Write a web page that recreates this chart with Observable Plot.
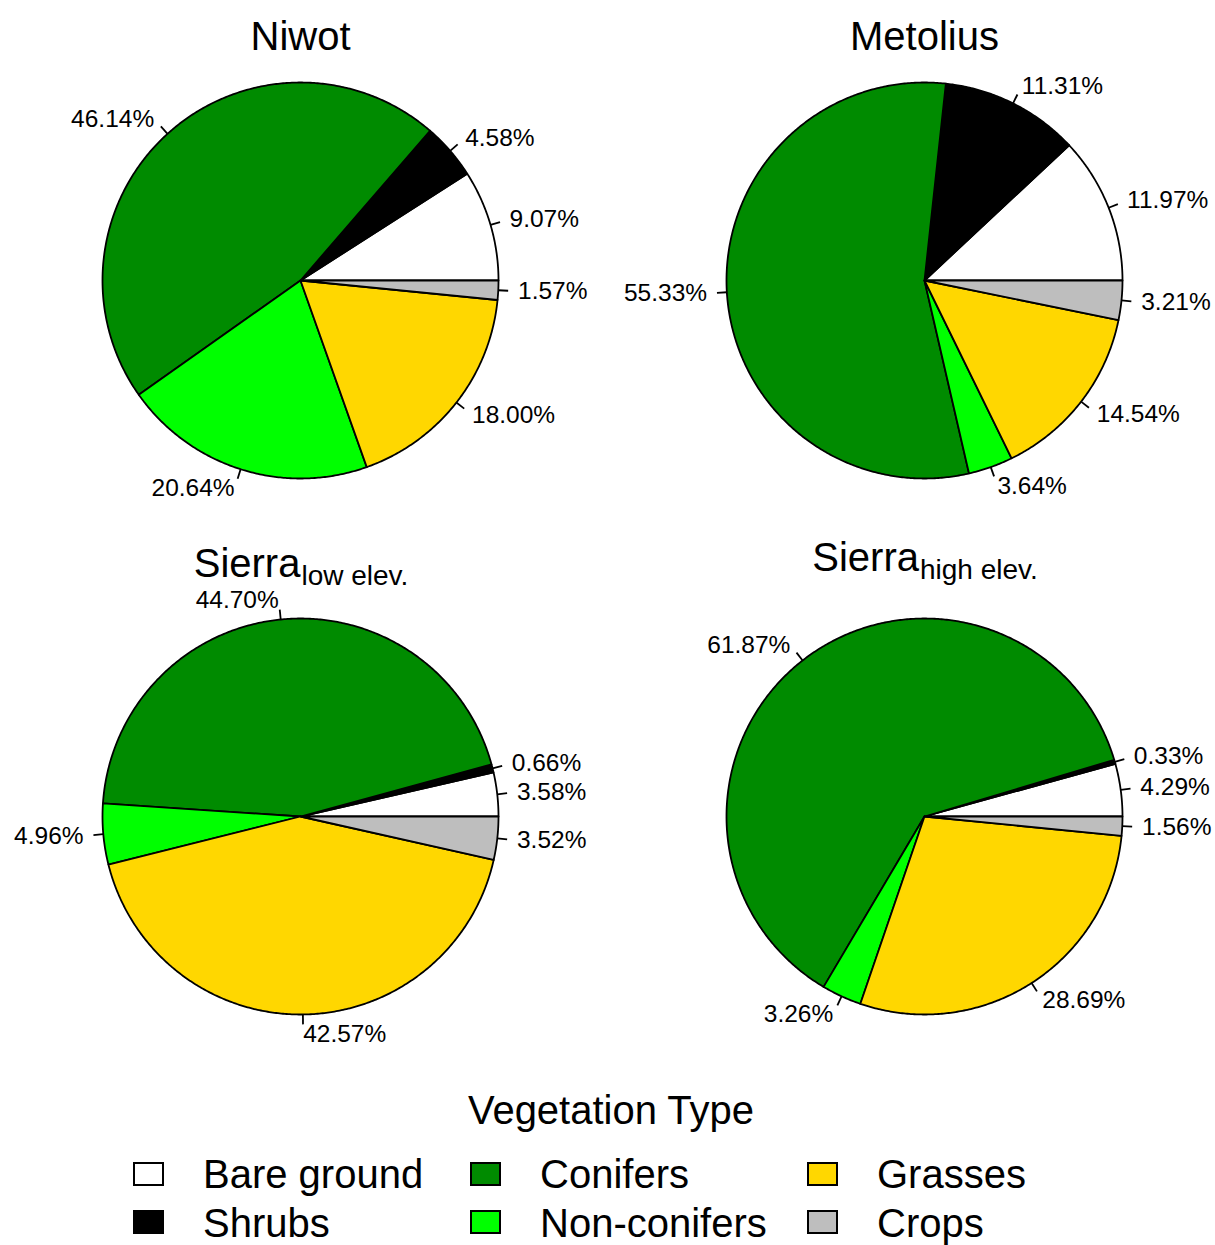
<!DOCTYPE html>
<html><head><meta charset="utf-8">
<script src="https://cdn.jsdelivr.net/npm/d3@7"></script>
<script src="https://cdn.jsdelivr.net/npm/@observablehq/plot@0.6"></script>
<style>
body{margin:0;background:#fff;font-family:"Liberation Sans",Arial,Helvetica,sans-serif;}
#wrap{position:relative;width:1215px;height:1245px;overflow:hidden;}
#chart{position:absolute;left:0;top:0;}
.leg{position:absolute;font-size:40px;line-height:40px;color:#000;white-space:nowrap;}
.sw{position:absolute;width:31px;height:24px;box-sizing:border-box;border:2px solid #000;}
</style></head><body><div id="wrap"><div id="chart"></div></div>
<script>
// ---------------- data ----------------
const categories = ["Bare ground","Shrubs","Conifers","Non-conifers","Grasses","Crops"];
const colors = ["#FFFFFF","#000000","#008B00","#00FF00","#FFD700","#BEBEBE"];
const siteNames = ["Niwot","Metolius","Sierra","Sierra"];
const siteSubs = ["","","low elev.","high elev."];
const niwot = [9.07,4.58,46.14,20.64,18.00,1.57];
const metolius = [11.97,11.31,55.33,3.64,14.54,3.21];
const sierraLow = [3.58,0.66,44.70,4.96,42.57,3.52];
const sierraHigh = [4.29,0.33,61.87,3.26,28.69,1.56];
const seriesValues = [niwot, metolius, sierraLow, sierraHigh];
const legendTitle = "Vegetation Type";

// ---------------- layout ----------------
const W = 1215, H = 1065, R = 198;
const panels = [{cx:300, cy:280, ty:49},{cx:924, cy:280, ty:49},{cx:300, cy:816, ty:576},{cx:924, cy:816, ty:570}];
const FONT = '"Liberation Sans", Arial, Helvetica, sans-serif';

const slices = [], ticks = [], labels = [];
seriesValues.forEach((vals, p) => {
  const {cx, cy} = panels[p];
  const total = d3.sum(vals);
  let cum = 0;
  vals.forEach((v, i) => {
    const a0 = 2*Math.PI*cum/total, a1 = 2*Math.PI*(cum+v)/total;
    const id = p + "-" + i, color = colors[i];
    slices.push({id, x:cx, y:cy, color});
    const n = Math.max(2, Math.ceil((a1-a0)/(Math.PI/360)));
    for (let k = 0; k <= n; k++) {
      const t = a0 + (a1-a0)*k/n;
      slices.push({id, x:cx + R*Math.cos(t), y:cy - R*Math.sin(t), color});
    }
    slices.push({id, x:cx, y:cy, color});
    const m = (a0+a1)/2, c = Math.cos(m), s = Math.sin(m);
    ticks.push({x1:cx+R*c, y1:cy-R*s, x2:cx+1.05*R*c, y2:cy-1.05*R*s});
    labels.push({x:cx+1.1*R*c, y:cy-1.1*R*s, text:v.toFixed(2)+"%", left:c<0});
    cum += v;
  });
});

const ctx = document.createElement("canvas").getContext("2d");
function tw(t, size){ ctx.font = `${size}px ${FONT}`; return ctx.measureText(t).width; }
const titles = [], subs = [];
panels.forEach((pn, p) => {
  const wm = tw(siteNames[p], 40), ws = siteSubs[p] ? tw(siteSubs[p], 28) : 0;
  const x0 = pn.cx - (wm + ws)/2;
  titles.push({x:x0, y:pn.ty, text:siteNames[p]});
  if (siteSubs[p]) subs.push({x:x0+wm+1, y:pn.ty+8.5, text:siteSubs[p]});
});

const plot = Plot.plot({
  width: W, height: H, margin: 0,
  x: {domain:[0,W], range:[0,W], axis:null},
  y: {domain:[0,H], range:[0,H], axis:null},
  color: {type:"identity"},
  style: {fontFamily: FONT, background:"white", color:"black"},
  marks: [
    Plot.line(slices, {x:"x", y:"y", z:"id", fill:"color", stroke:"black", strokeWidth:1.8, strokeLinejoin:"round"}),
    Plot.link(ticks, {x1:"x1", y1:"y1", x2:"x2", y2:"y2", stroke:"black", strokeWidth:1.8}),
    Plot.text(labels.filter(d => !d.left), {x:"x", y:"y", text:"text", textAnchor:"start", fontSize:24.5, fill:"black"}),
    Plot.text(labels.filter(d => d.left), {x:"x", y:"y", text:"text", textAnchor:"end", fontSize:24.5, fill:"black"}),
    Plot.text(titles, {x:"x", y:"y", text:"text", textAnchor:"start", lineAnchor:"bottom", fontSize:40, fill:"black"}),
    Plot.text(subs, {x:"x", y:"y", text:"text", textAnchor:"start", lineAnchor:"bottom", fontSize:28, fill:"black"})
  ]
});
document.getElementById("chart").appendChild(plot);

// ---------------- legend (below the SVG) ----------------
const wrap = document.getElementById("wrap");
const lt = document.createElement("div");
lt.className = "leg"; lt.textContent = legendTitle;
lt.style.left = "0px"; lt.style.width = "1222px"; lt.style.textAlign = "center"; lt.style.top = "1090px";
wrap.appendChild(lt);
categories.forEach((cat, i) => {
  const col = Math.floor(i/2), row = i % 2;
  const sw = document.createElement("div");
  sw.className = "sw"; sw.style.background = colors[i];
  sw.style.left = (133 + col*337) + "px"; sw.style.top = (1162 + row*48) + "px";
  wrap.appendChild(sw);
  const t = document.createElement("div");
  t.className = "leg"; t.textContent = cat;
  t.style.left = (203 + col*337) + "px"; t.style.top = (1154 + row*49) + "px";
  wrap.appendChild(t);
});
</script></body></html>
